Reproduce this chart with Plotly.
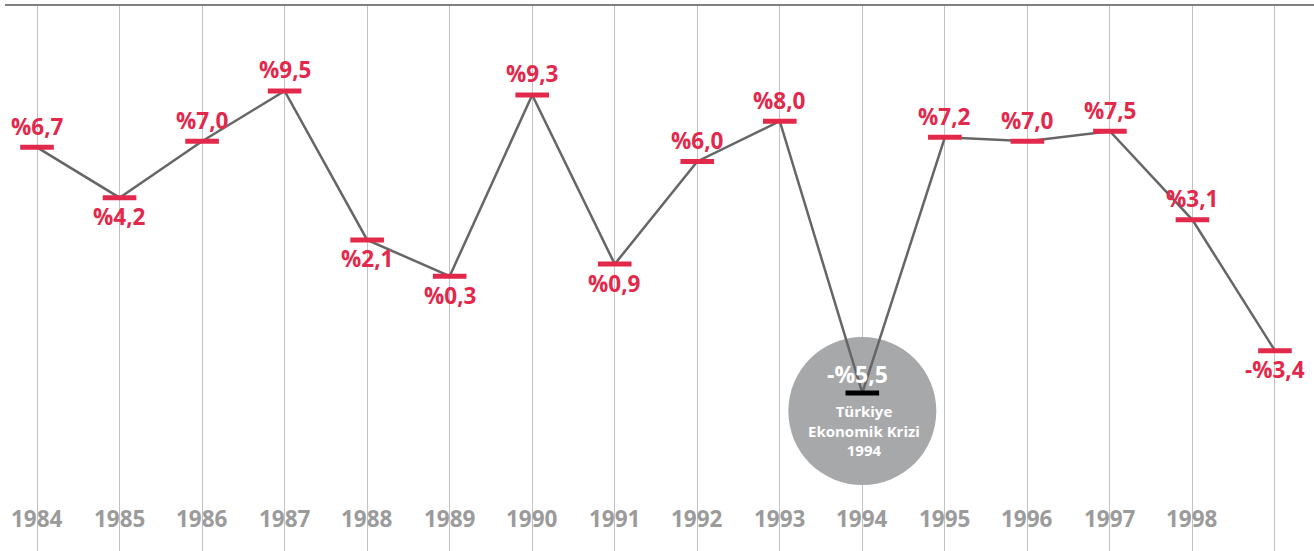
import plotly.graph_objects as go

# ---- data ----
years = list(range(1984, 2000))
growth = [6.7, 4.2, 7.0, 9.5, 2.1, 0.3, 9.3, 0.9, 6.0, 8.0, -5.5, 7.2, 7.0, 7.5, 3.1, -3.4]
value_labels = ["%6,7", "%4,2", "%7,0", "%9,5", "%2,1", "%0,3", "%9,3", "%0,9",
                "%6,0", "%8,0", "-%5,5", "%7,2", "%7,0", "%7,5", "%3,1", "-%3,4"]
label_side = ["up", "down", "up", "up", "down", "down", "up", "down",
              "up", "up", "up", "up", "up", "up", "up", "down"]
tick_labels = ["1984", "1985", "1986", "1987", "1988", "1989", "1990", "1991",
               "1992", "1993", "1994", "1995", "1996", "1997", "1998"]
crisis_year = 1994
crisis_text = "Türkiye<br>Ekonomik Krizi<br>1994"

RED = "#e2284b"
GRAY_LINE = "#666666"
FONT = "Open Sans"

crisis_idx = years.index(crisis_year)
crisis_val = growth[crisis_idx]

fig = go.Figure()

# circle behind the crisis point
fig.add_trace(go.Scatter(
    x=[crisis_year], y=[crisis_val - 0.9], mode="markers",
    marker=dict(size=148, color="#a7a8aa", line=dict(width=0)),
    hoverinfo="skip", showlegend=False))

# line
fig.add_trace(go.Scatter(
    x=years, y=growth, mode="lines",
    line=dict(color=GRAY_LINE, width=2.5),
    hoverinfo="skip", showlegend=False))

# dash markers
marker_colors = [("#000000" if y == crisis_year else RED) for y in years]
fig.add_trace(go.Scatter(
    x=years, y=growth, mode="markers",
    marker=dict(symbol="line-ew", size=24, color=marker_colors,
                line=dict(width=5, color=marker_colors)),
    hoverinfo="skip", showlegend=False))

annotations = []
for yr, v, lab, side in zip(years, growth, value_labels, label_side):
    if yr == crisis_year:
        annotations.append(dict(x=yr, y=v, text=lab, showarrow=False,
                                yshift=19, xshift=-5,
                                font=dict(family=FONT, size=23, color="white", weight=700)))
        annotations.append(dict(x=yr, y=v, text=crisis_text, showarrow=False,
                                yshift=-38, xshift=2,
                                font=dict(family=FONT, size=15, color="white", weight=700)))
    else:
        annotations.append(dict(x=yr, y=v, text=lab, showarrow=False,
                                yshift=21 if side == "up" else -19,
                                font=dict(family=FONT, size=22.5, color=RED, weight=700)))

for yr, t in zip(years, tick_labels):
    annotations.append(dict(x=yr, y=0.06, yref="paper", yanchor="middle", text=t,
                            showarrow=False,
                            font=dict(family=FONT, size=22.5, color="#9b9b9b", weight=700)))

fig.update_layout(
    width=1314, height=551,
    margin=dict(l=5, r=0, t=6, b=0),
    paper_bgcolor="white", plot_bgcolor="white",
    showlegend=False,
    annotations=annotations,
    xaxis=dict(range=[1983.612, 1999.473], side="top", showline=True,
               linecolor="#808080", linewidth=1.5, showgrid=True, gridcolor="#c2c2c2",
               gridwidth=1, dtick=1, tick0=1984, showticklabels=False, ticks="",
               zeroline=False, fixedrange=True),
    yaxis=dict(range=[-13.35, 13.72], showgrid=False, zeroline=False,
               showticklabels=False, ticks="", showline=False, fixedrange=True),
)

fig.write_html(
    "out.html",
    config={"displayModeBar": False},
    post_script="document.body.style.margin='0';document.body.style.overflow='hidden';",
)
